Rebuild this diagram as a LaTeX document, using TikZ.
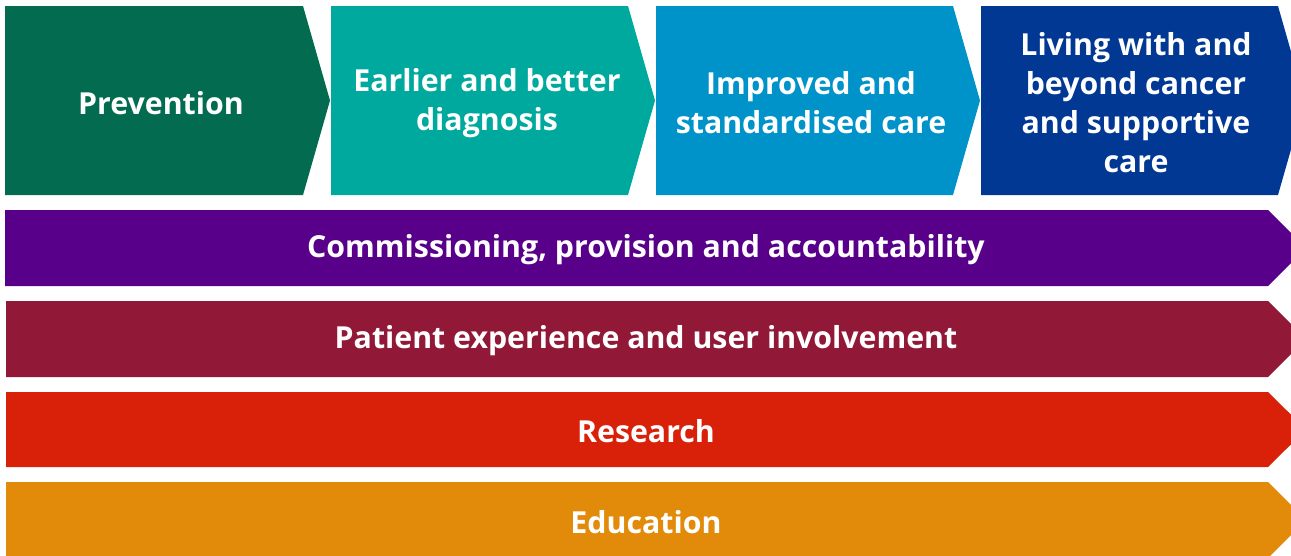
\documentclass[tikz,border=0pt]{standalone}
\usepackage{fontspec}
\setmainfont{Open Sans}
\definecolor{cPrev}{RGB}{3,107,80}
\definecolor{cEarly}{RGB}{0,169,157}
\definecolor{cImpr}{RGB}{0,147,201}
\definecolor{cLive}{RGB}{0,56,147}
\definecolor{cComm}{RGB}{88,0,138}
\definecolor{cPat}{RGB}{146,24,56}
\definecolor{cRes}{RGB}{217,32,8}
\definecolor{cEdu}{RGB}{226,138,9}
\tikzset{
  lbl/.style={text=white, font=\bfseries\fontsize{30.3}{39}\selectfont, align=center, inner sep=0pt},
}
\begin{document}
\begin{tikzpicture}[x=1pt,y=-1pt]
\useasboundingbox (0,0) rectangle (1291,555);
\clip (0,0) rectangle (1291,555);
% top chevrons
\fill[cPrev]  (5,6) -- (303,6) -- (330,100.5) -- (303,195) -- (5,195) -- cycle;
\fill[cEarly] (331,6) -- (628,6) -- (655,100.5) -- (628,195) -- (331,195) -- cycle;
\fill[cImpr]  (656,6) -- (953,6) -- (980,100.5) -- (953,195) -- (656,195) -- cycle;
\fill[cLive]  (981,6) -- (1278,6) -- (1305,100.5) -- (1278,195) -- (981,195) -- cycle;
% bars
\fill[cComm] (5,210) -- (1268,210) -- (1306,248) -- (1268,286) -- (5,286) -- cycle;
\fill[cPat]  (6,301) -- (1268,301) -- (1306,339) -- (1268,377) -- (6,377) -- cycle;
\fill[cRes]  (6,392) -- (1268,392) -- (1306,429.5) -- (1268,467) -- (6,467) -- cycle;
\fill[cEdu]  (6,482) -- (1268,482) -- (1306,520) -- (1268,558) -- (6,558) -- cycle;
% labels
\node[lbl] (prev) at (161,103) {Prevention};
\node[lbl] (early) at (487,103) {Earlier and better\\diagnosis};
\node[lbl] (impr) at (811,103) {Improved and\\standardised care};
\node[lbl] (live) at (1136,103) {Living with and\\beyond cancer\\and supportive\\care};
\node[lbl] (comm) at (646,250) {Commissioning, provision and accountability};
\node[lbl] (pat) at (646,341) {Patient experience and user involvement};
\node[lbl] (res) at (646,431.5) {Research};
\node[lbl] (edu) at (646,522) {Education};
\end{tikzpicture}
\end{document}
